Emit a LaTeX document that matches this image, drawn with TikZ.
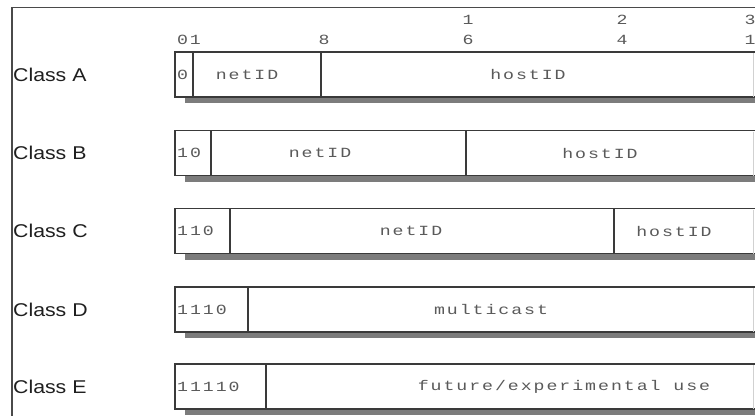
\documentclass[tikz,border=0pt]{standalone}
\usepackage{fontspec}
\setmainfont{Liberation Sans}
\newfontfamily\classfont[FakeStretch=1.15]{Liberation Sans}
\newfontfamily\bitfont[FakeStretch=1.3,LetterSpace=14]{Liberation Mono}
\definecolor{boxline}{HTML}{3A3A3A}
\definecolor{txtgray}{HTML}{5A5A5A}
\definecolor{shadowgray}{HTML}{7C7C7C}
\definecolor{framegray}{HTML}{4A4A4A}
\tikzset{
  fieldbox/.style={draw=boxline, line width=1.1pt, fill=white, anchor=north west,
    minimum height=45pt, inner sep=0pt, outer sep=0pt},
  bittext/.style={font=\bitfont\fontsize{14}{14}\selectfont, text=txtgray, inner sep=0pt},
  prefixtext/.style={bittext, anchor=west},
  classlabel/.style={font=\classfont\fontsize{18.5}{18.5}\selectfont, text=black!88, anchor=west, inner sep=0pt},
  shadowbar/.style={fill=shadowgray, draw=none},
  frameline/.style={draw=framegray, line width=1.2pt},
  faintedge/.style={draw=black!18, line width=0.8pt}
}
\begin{document}
\begin{tikzpicture}[x=1pt,y=-1pt]
\useasboundingbox (0,0) rectangle (755,415);
\clip (0,0) rectangle (755,415);
\fill[white] (0,0) rectangle (755,415);
% frame
\draw[frameline] (12,416) -- (12,7.5) -- (756,7.5);
% header bit numbers
\node[bittext] (h01) at (189,40) {01};
\node[bittext] (h8) at (324,40) {8};
\node[bittext] (h16a) at (468,20) {1};
\node[bittext] (h16b) at (468,40) {6};
\node[bittext] (h24a) at (622,20) {2};
\node[bittext] (h24b) at (622,40) {4};
\node[bittext] (h31a) at (750,20) {3};
\node[bittext] (h31b) at (750,40) {1};
% shadows
\foreach \t in {52,130.5,208.5,287,364}{
  \path[shadowbar] (185,\t+44) rectangle (770,\t+51);
}
% Class A
\node[classlabel] (cA) at (13,74.5) {Class A};
\node[fieldbox, minimum width=18pt] (a1) at (175,52) {};
\node[fieldbox, minimum width=128pt] (a2) at (a1.north east) {};
\node[fieldbox, minimum width=460pt] (a3) at (a2.north east) {};
\node[prefixtext] (ta1) at (177,74.5) {0};
\node[bittext] (ta2) at (247,74.5) {netID};
\node[bittext] (ta3) at (528,74.5) {hostID};
% Class B
\node[classlabel] (cB) at (13,153) {Class B};
\node[fieldbox, minimum width=36pt] (b1) at (175,130.5) {};
\node[fieldbox, minimum width=255pt] (b2) at (b1.north east) {};
\node[fieldbox, minimum width=320pt] (b3) at (b2.north east) {};
\node[prefixtext] (tb1) at (177,153) {10};
\node[bittext] (tb2) at (320,153) {netID};
\node[bittext] (tb3) at (600,153) {hostID};
% Class C
\node[classlabel] (cC) at (13,231) {Class C};
\node[fieldbox, minimum width=55pt] (c1) at (175,208.5) {};
\node[fieldbox, minimum width=384pt] (c2) at (c1.north east) {};
\node[fieldbox, minimum width=170pt] (c3) at (c2.north east) {};
\node[prefixtext] (tc1) at (177,231) {110};
\node[bittext] (tc2) at (411,231) {netID};
\node[bittext] (tc3) at (674,231) {hostID};
% Class D
\node[classlabel] (cD) at (13,309.5) {Class D};
\node[fieldbox, minimum width=73pt] (d1) at (175,287) {};
\node[fieldbox, minimum width=540pt] (d2) at (d1.north east) {};
\node[prefixtext] (td1) at (177,309.5) {1110};
\node[bittext] (td2) at (491,309.5) {multicast};
% Class E
\node[classlabel] (cE) at (13,387) {Class E};
\node[fieldbox, minimum width=91pt] (e1) at (175,364) {};
\node[fieldbox, minimum width=520pt] (e2) at (e1.north east) {};
\node[prefixtext] (te1) at (177,387) {11110};
\node[bittext] (te2) at (564,387) {future/experimental use};
% faint right edges
\foreach \n in {a3,b3,c3,d2,e2}{
  \draw[faintedge] (753,0 |- \n.north) ++(0,1) -- (753,0 |- \n.south);
}
\end{tikzpicture}
\end{document}
